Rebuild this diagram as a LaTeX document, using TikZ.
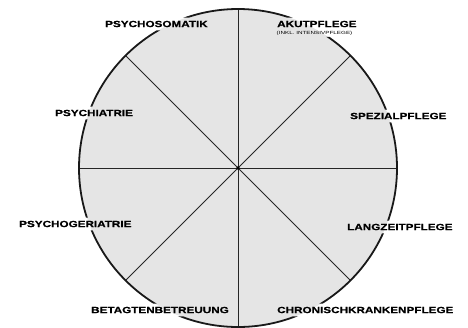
\documentclass[tikz,border=0pt]{standalone}
\usepackage{fontspec}
\newfontfamily\labfont[FakeStretch=1.3, BoldFeatures={FakeBold=0.6}]{Liberation Sans}
\newfontfamily\subfont[FakeStretch=1.4]{Liberation Sans}
\begin{document}
\begin{tikzpicture}[x=1pt,y=-1pt,
  lab/.style={font=\labfont\bfseries\fontsize{9}{10}\selectfont, inner sep=3pt, anchor=west},
  sublab/.style={font=\subfont\fontsize{4.5}{5}\selectfont, inner sep=1.5pt, anchor=west},
  spoke/.style={line width=0.9pt, black!85},
  rim/.style={line width=1.8pt, black!90}]
\useasboundingbox (0,0) rectangle (468,327);
\coordinate (c) at (238,168);
\fill[black!10] (c) circle[radius=159pt];
\foreach \a in {0,45,...,315} \draw[spoke] (c) -- ++(\a:159pt);
\fill (c) circle[radius=1.8pt];
\node[lab] (psm) at (102,24) {PSYCHOSOMATIK};
\node[lab] (akut) at (274,24) {AKUTPFLEGE};
\node[sublab] (inkl) at (275,33) {(INKL. INTENSIVPFLEGE)};
\node[lab] (psy) at (52,113) {PSYCHIATRIE};
\node[lab] (spez) at (347,116) {SPEZIALPFLEGE};
\node[lab] (pger) at (16,224) {PSYCHOGERIATRIE};
\node[lab] (lang) at (344,227) {LANGZEITPFLEGE};
\node[lab] (beta) at (88,310) {BETAGTENBETREUUNG};
\node[lab] (chron) at (274,310) {CHRONISCHKRANKENPFLEGE};
\begin{scope}[even odd rule]
  \clip (-20,-20) rectangle (490,350)
    (psm.south west) rectangle (psm.north east)
    (akut.north west) rectangle (akut.east |- inkl.south)
    (psy.south west) rectangle (psy.north east)
    (spez.south west) rectangle (spez.north east)
    (pger.south west) rectangle (pger.north east)
    (lang.south west) rectangle (lang.north east)
    (beta.south west) rectangle (beta.north east)
    (chron.south west) rectangle (chron.north east);
  \draw[rim] (c) circle[radius=159pt];
\end{scope}
\end{tikzpicture}
\end{document}
